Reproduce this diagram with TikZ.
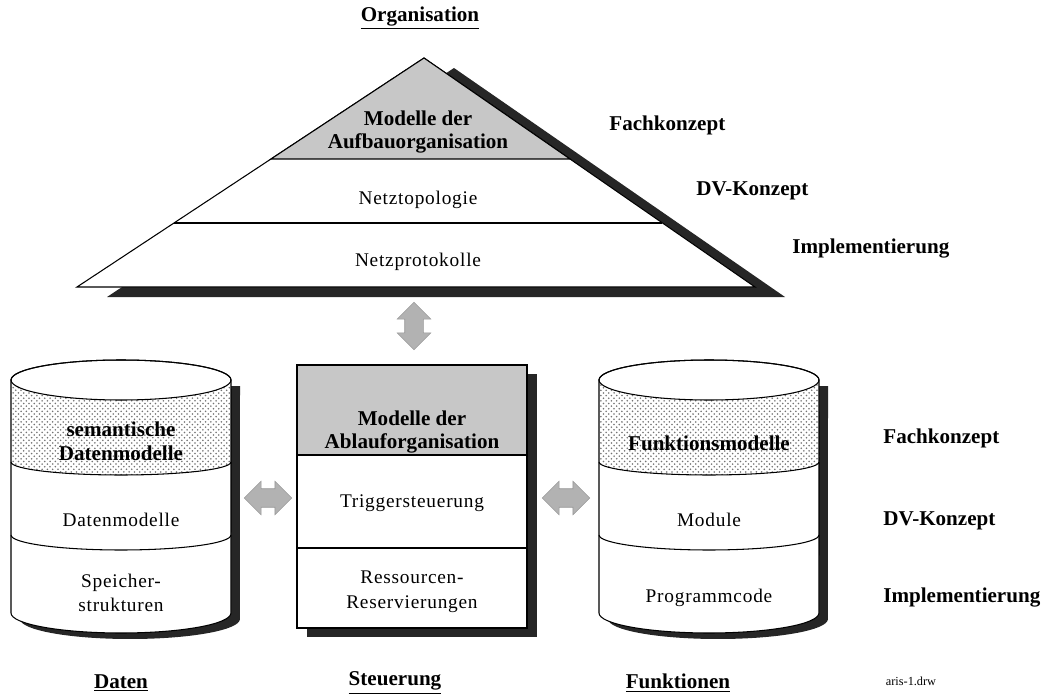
\documentclass[tikz,border=0pt]{standalone}
\usepackage{fontspec}
\setmainfont{Liberation Serif}
\newfontfamily\widefont[LetterSpace=4]{Liberation Serif}
\usepackage{tikz}
\usetikzlibrary{shapes.arrows,patterns}

\begin{document}
\begin{tikzpicture}[x=0.02cm,y=-0.02cm,line width=0.6pt]
  \tikzstyle{shadow}=[fill=black!85]
  \tikzstyle{view}=[font=\bfseries\fontsize{12}{14}\selectfont]
  \tikzstyle{head}=[align=center, font=\bfseries\fontsize{12}{13.5}\selectfont]
  \tikzstyle{plain}=[align=center, font=\widefont\fontsize{11}{14}\selectfont]
  \tikzstyle{dblarrow}=[double arrow, fill=black!30, draw=black!40, line width=0.3pt, inner sep=0.18cm, minimum width=0.66cm, minimum height=0.95cm, double arrow head extend=0.15cm]
  \useasboundingbox (0,0) rectangle (1049,696);

  % Organisation
  \node[view] (org) at (420,18) {\underline{Organisation}};
  \coordinate (top) at (424,58);
  \coordinate (bl) at (77,287);
  \coordinate (br) at (755,287);
  \fill[shadow] ([shift={(30,10)}]top) -- ([shift={(30,10)}]br) -- ([shift={(30,10)}]bl) -- cycle;
  \draw[fill=white] (top) -- (br) -- (bl) -- cycle;
  \draw[fill=black!22] (top) -- (570,159) -- (271,159) -- cycle;
  \draw (174,223) -- (662,223);
  \node[head] (O_1) at (418,132) {Modelle der\\Aufbauorganisation};
  \node[plain] (O_2) at (418,200) {Netztopologie};
  \node[plain] (O_3) at (418,262) {Netzprotokolle};
  \node[view,anchor=west] (L_1) at (603,125) {Fachkonzept};
  \node[view,anchor=west] (L_2) at (690,191) {DV-Konzept};
  \node[view,anchor=west] (L_3) at (786,249) {Implementierung};

  % Steuerung
  \fill[shadow] (307,374) rectangle (537,637);
  \draw[fill=white] (297,365) rectangle (527,628);
  \draw[fill=black!22] (297,365) rectangle (527,455);
  \draw (297,548) -- (527,548);
  \node[head] (S_1) at (412,432) {Modelle der\\Ablauforganisation};
  \node[plain] (S_2) at (412,503) {Triggersteuerung};
  \node[plain] (S_3) at (412,592) {Ressourcen-\\Reservierungen};

  % Daten und Funktionen
  \foreach \l/\r in {11/231, 599/819} {
    \fill[shadow] (\l+9,386) -- (\l+9,619) arc[start angle=180,end angle=360,x radius=2.2cm,y radius=0.4cm] -- (\r+9,386) -- cycle;
    \draw[fill=white] (\l,380) -- (\l,613) arc[start angle=180,end angle=360,x radius=2.2cm,y radius=0.4cm]
      -- (\r,380) arc[start angle=0,end angle=180,x radius=2.2cm,y radius=0.4cm] -- cycle;
    \fill[pattern=crosshatch dots, pattern color=black!55] (\l,380) arc[start angle=180,end angle=360,x radius=2.2cm,y radius=0.4cm]
      -- (\r,462) arc[start angle=0,end angle=-180,x radius=2.2cm,y radius=0.26cm] -- cycle;
    \draw (\l+110,380) ellipse[x radius=2.2cm,y radius=0.4cm];
    \draw (\l,462) arc[start angle=180,end angle=360,x radius=2.2cm,y radius=0.26cm];
    \draw (\l,535) arc[start angle=180,end angle=360,x radius=2.2cm,y radius=0.3cm];
  }
  \node[head] (D_1) at (121,441) {semantische\\Datenmodelle};
  \node[plain] (D_2) at (121,520) {Datenmodelle};
  \node[plain] (D_3) at (121,593) {Speicher-\\strukturen};
  \node[head] (F_1) at (709,443) {Funktionsmodelle};
  \node[plain] (F_2) at (709,520) {Module};
  \node[plain] (F_3) at (709,598) {Programmcode};
  \node[view,anchor=west] (R_1) at (877,438) {Fachkonzept};
  \node[view,anchor=west] (R_2) at (877,521) {DV-Konzept};
  \node[view,anchor=west] (R_3) at (877,598) {Implementierung};

  % Pfeile
  \node[dblarrow, shape border rotate=90] (a_1) at (414,326) {};
  \node[dblarrow] (a_2) at (268,498) {};
  \node[dblarrow] (a_3) at (566,498) {};

  \node[view] (d) at (121,683) {\underline{Daten}};
  \node[view] (s) at (395,683) {\underline{Steuerung}};
  \node[view] (f) at (678,683) {\underline{Funktionen}};
  \node[font=\fontsize{7}{8}\selectfont] (drw) at (911,681) {aris-1.drw};
\end{tikzpicture}
\end{document}
